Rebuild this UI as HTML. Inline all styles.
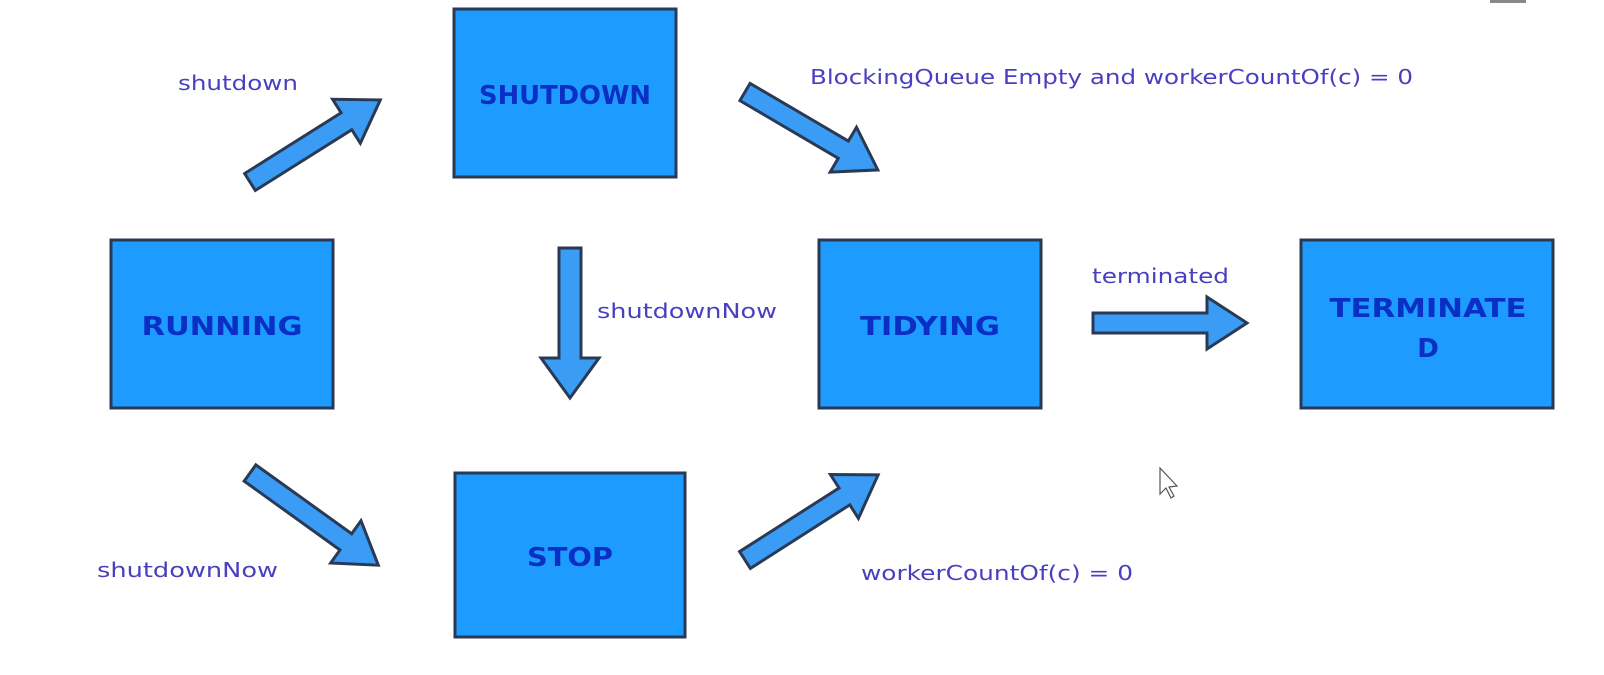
<!DOCTYPE html>
<html><head><style>
body{margin:0;background:#fff;}
svg text{font-family:"DejaVu Sans","Liberation Sans",sans-serif;}
.b{fill:#1e9bff;stroke:#2a3a55;stroke-width:3;}
.a{fill:#3a9cf5;stroke:#2a3a55;stroke-width:3;stroke-linejoin:miter;}
.t{font-weight:bold;font-size:26px;fill:#0a2fc4;text-anchor:middle;}
.l{font-size:20px;fill:#4a3fc0;}
</style></head><body>
<svg width="1604" height="670" viewBox="0 0 1604 670" xmlns="http://www.w3.org/2000/svg">
<rect x="1490" y="0" width="36" height="3" fill="#888"/>
<rect class="b" x="454" y="9" width="222" height="168"/>
<rect class="b" x="111" y="240" width="222" height="168"/>
<rect class="b" x="819" y="240" width="222" height="168"/>
<rect class="b" x="1301" y="240" width="252" height="168"/>
<rect class="b" x="455" y="473" width="230" height="164"/>
<text class="t" x="565" y="104" textLength="172" lengthAdjust="spacingAndGlyphs">SHUTDOWN</text>
<text class="t" x="222" y="335" textLength="161" lengthAdjust="spacingAndGlyphs">RUNNING</text>
<text class="t" x="930" y="335" textLength="140" lengthAdjust="spacingAndGlyphs">TIDYING</text>
<text class="t" x="1428" y="317" textLength="197" lengthAdjust="spacingAndGlyphs">TERMINATE</text>
<text class="t" x="1428" y="357">D</text>
<text class="t" x="570" y="566" textLength="86" lengthAdjust="spacingAndGlyphs">STOP</text>
<g class="a">
<polygon transform="translate(250,182) rotate(-32.2)" points="0,-10 114,-10 114,-26 154,0 114,26 114,10 0,10"/>
<polygon transform="translate(745,92) rotate(30.4)" points="0,-10 114,-10 114,-26 154,0 114,26 114,10 0,10"/>
<polygon transform="translate(570,248) rotate(90)" points="0,-11 110,-11 110,-29 150,0 110,29 110,11 0,11"/>
<polygon transform="translate(1093,323)" points="0,-10 114,-10 114,-26 154,0 114,26 114,10 0,10"/>
<polygon transform="translate(250,473) rotate(35.7)" points="0,-10 118,-10 118,-26 158,0 118,26 118,10 0,10"/>
<polygon transform="translate(745,560) rotate(-32.6)" points="0,-10 118,-10 118,-26 158,0 118,26 118,10 0,10"/>
</g>
<text class="l" x="178" y="90" textLength="120" lengthAdjust="spacingAndGlyphs">shutdown</text>
<text class="l" x="810" y="84" textLength="603" lengthAdjust="spacingAndGlyphs">BlockingQueue Empty and workerCountOf(c) = 0</text>
<text class="l" x="597" y="318" textLength="180" lengthAdjust="spacingAndGlyphs">shutdownNow</text>
<text class="l" x="1092" y="283" textLength="137" lengthAdjust="spacingAndGlyphs">terminated</text>
<text class="l" x="97" y="577" textLength="181" lengthAdjust="spacingAndGlyphs">shutdownNow</text>
<text class="l" x="861" y="580" textLength="272" lengthAdjust="spacingAndGlyphs">workerCountOf(c) = 0</text>
<path d="M1160 468 L1160 494 L1166 488 L1171 498 L1174 496 L1169 487 L1177 486 Z" fill="#fff" stroke="#555" stroke-width="1.2"/>
</svg>
</body></html>
